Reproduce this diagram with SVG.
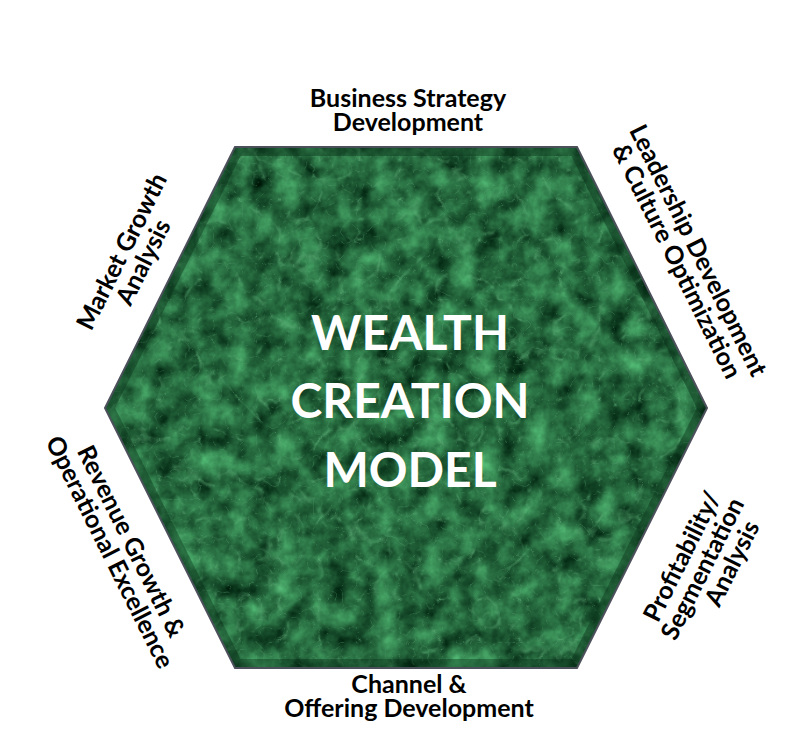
<svg xmlns="http://www.w3.org/2000/svg" width="799" height="749" viewBox="0 0 799 749">
  <style>
    .lbl { font-family: Lato, "Liberation Sans", sans-serif; font-weight: 700; font-size: 25px; fill: #000; text-anchor: middle; }
    .title { font-family: Lato, "Liberation Sans", sans-serif; font-weight: 700; font-size: 48px; fill: #fff; text-anchor: middle; }
  </style>
  <defs>
    <clipPath id="hexClip">
      <polygon points="235,147 577,147 707,408 577,668 235,668 105,408"/>
    </clipPath>
    <filter id="marble" x="0" y="0" width="1" height="1" color-interpolation-filters="sRGB">
      <feTurbulence type="fractalNoise" baseFrequency="0.04" numOctaves="4" seed="4" result="f"/>
      <feColorMatrix in="f" type="matrix" values="0.4 0 0 0 -0.05  0.75 0 0 0 0.04  0.5 0 0 0 -0.005  0 0 0 0 1" result="base"/>
      <feTurbulence type="turbulence" baseFrequency="0.025" numOctaves="3" seed="9" result="t"/>
      <feColorMatrix in="t" type="matrix" values="0 0 0 0 0.4  0 0 0 0 0.72  0 0 0 0 0.5  -3.2 0 0 0 0.45" result="veins"/>
      <feTurbulence type="turbulence" baseFrequency="0.07" numOctaves="2" seed="21" result="t2"/>
      <feColorMatrix in="t2" type="matrix" values="0 0 0 0 0.36  0 0 0 0 0.66  0 0 0 0 0.46  -3.5 0 0 0 0.3" result="veins2"/>
      <feMerge>
        <feMergeNode in="base"/>
        <feMergeNode in="veins2"/>
        <feMergeNode in="veins"/>
      </feMerge>
    </filter>
  </defs>
  <rect width="799" height="749" fill="#fff"/>

  <g id="hexagon">
    <g clip-path="url(#hexClip)">
      <rect x="100" y="140" width="612" height="535" fill="#22703f" filter="url(#marble)"/>
      <polygon points="235,147 577,147 707,408 577,668 235,668 105,408" fill="none" stroke="#082e16" stroke-opacity="0.4" stroke-width="18"/>
    </g>
    <polygon points="235,147 577,147 707,408 577,668 235,668 105,408" fill="none" stroke="#4b505a" stroke-width="2"/>
    <text class="title" x="410" y="350">WEALTH</text>
    <text class="title" x="410" y="418">CREATION</text>
    <text class="title" x="410" y="487">MODEL</text>
  </g>

  <g id="business-strategy">
    <text class="lbl" x="408" y="107"><tspan x="408">Business Strategy</tspan><tspan x="408" dy="24">Development</tspan></text>
  </g>
  <g id="leadership" transform="translate(687,256) rotate(63.5)">
    <text class="lbl" x="0" y="-4"><tspan x="0">Leadership Development</tspan><tspan x="0" dy="24">&amp; Culture Optimization</tspan></text>
  </g>
  <g id="profitability" transform="translate(703,569) rotate(-63.5)">
    <text class="lbl" x="0" y="-16"><tspan x="2">Profitability/</tspan><tspan x="0" dy="24">Segmentation</tspan><tspan x="18" dy="24">Analysis</tspan></text>
  </g>
  <g id="channel">
    <text class="lbl" x="409" y="693"><tspan x="409">Channel &amp;</tspan><tspan x="409" dy="24">Offering Development</tspan></text>
  </g>
  <g id="revenue" transform="translate(120,547) rotate(63.5)">
    <text class="lbl" x="0" y="-4"><tspan x="0">Revenue Growth &amp;</tspan><tspan x="0" dy="24">Operational Excellence</tspan></text>
  </g>
  <g id="market" transform="translate(133,257) rotate(-63.5)">
    <text class="lbl" x="0" y="-4"><tspan x="0">Market Growth</tspan><tspan x="0" dy="24">Analysis</tspan></text>
  </g>
  <g id="connectors"></g>
</svg>
